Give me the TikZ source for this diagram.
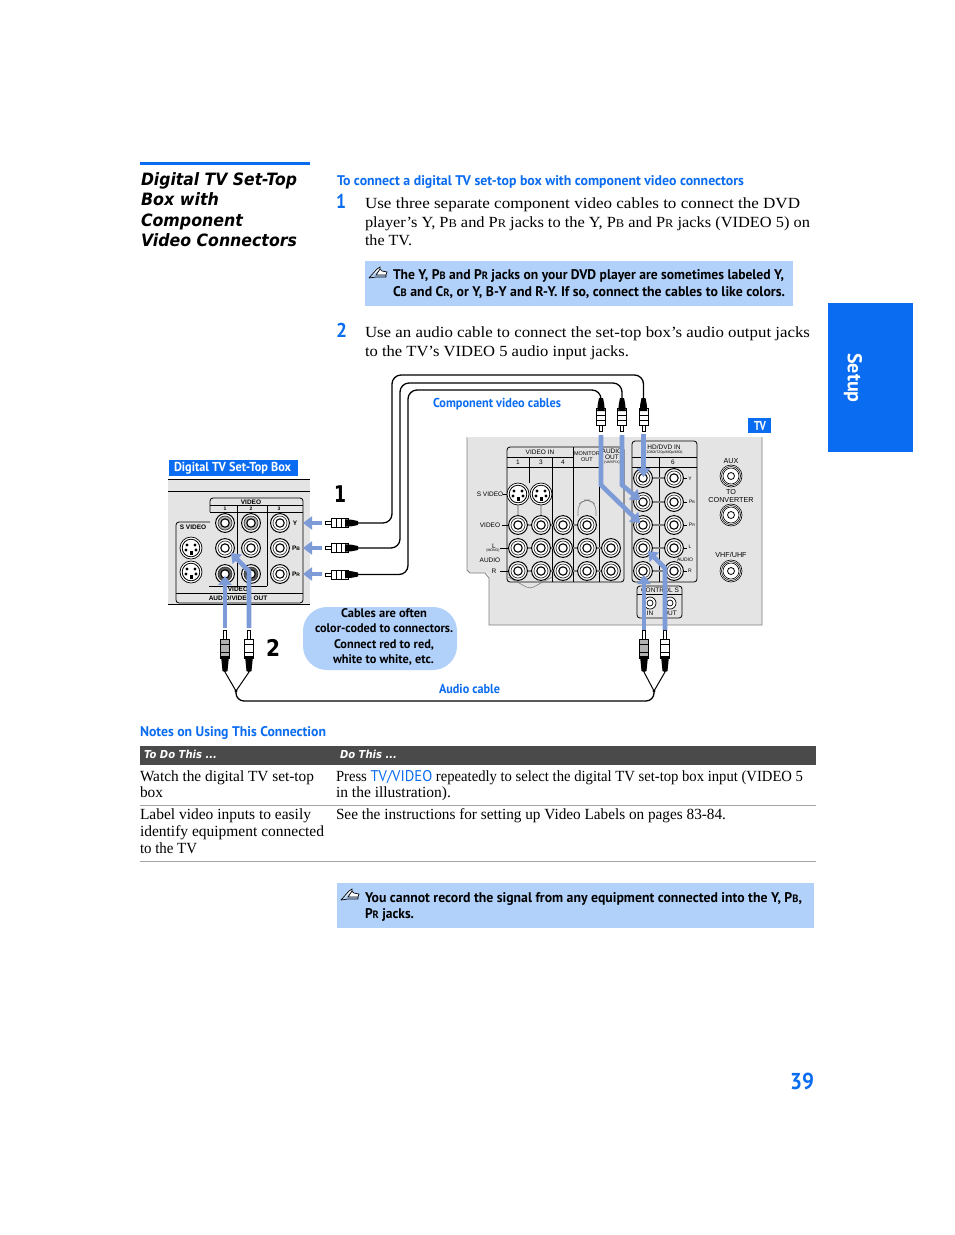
\documentclass[tikz,border=0pt]{standalone}
\usepackage{fontspec}
\usepackage{graphicx}
\usetikzlibrary{arrows.meta}
\setmainfont{Liberation Serif}
\setsansfont{PT Sans}
\newfontfamily\dvs{DejaVu Sans}
\newfontfamily\lbs{Liberation Sans}
\definecolor{sonyblue}{HTML}{0A6CF0}
\definecolor{notefill}{HTML}{B1D1FB}
\definecolor{panel}{HTML}{E4E4E4}
\definecolor{arrowblue}{HTML}{7D9BD6}
\definecolor{headgrey}{HTML}{4A4A4A}
\newcounter{tn}
\newcommand\tx[5][]{\stepcounter{tn}\node[txt,#1] (t\arabic{tn}) at (#2,#3) {\resizebox{#4pt}{\height}{#5}};}
\newcommand\lbl[4][]{\stepcounter{tn}\node[lab,#1] (t\arabic{tn}) at (#2,#3) {#4};}
\newcommand\lsm[1]{\scalebox{.76}{#1}}
\newcommand\jack[3][white]{%
  \fill[white] (#2,#3) circle[radius=9.8];
  \draw[black,line width=1] (#2,#3) circle[radius=9.4];
  \draw[black!80,line width=.7,fill=#1] (#2,#3) circle[radius=7];
  \draw[black,line width=1.1,fill=white] (#2,#3) circle[radius=4.2];
}
\newcommand\svideo[2]{%
  \draw[black,line width=.7,fill=white] (#1,#2) circle[radius=11];
  \draw[black,line width=.8,fill=white] (#1,#2) circle[radius=8.8];
  \fill[black] (#1-4,#2-3) circle[radius=1.6] (#1+4,#2-3) circle[radius=1.6]
               (#1-5,#2+2) circle[radius=1.6] (#1+5,#2+2) circle[radius=1.6];
  \fill[black] (#1-1.5,#2+3) rectangle (#1+1.5,#2+7);
}
\newcommand\noteicon[2]{%
  \begin{scope}[shift={(#1,#2)}]
    \draw[black,line width=.7,fill=white] (0,12) -- (8,3) -- (11,1) -- (11,3) -- (7,9) -- (17,9) -- (18,6) -- (13,5) -- (11,3);
    \draw[black,line width=.7] (0,12) -- (7,11) -- (17,11) -- (17,9);
  \end{scope}
}
\tikzset{
  txt/.style={inner sep=0pt,outer sep=0pt,anchor=base west},
  body/.style={font=\rmfamily\fontsize{15.5}{18}\selectfont,text=black},
  headb/.style={font=\sffamily\bfseries\fontsize{14}{16}\selectfont,text=sonyblue},
  noteb/.style={font=\sffamily\bfseries\fontsize{14}{16}\selectfont,text=black},
  title/.style={font=\dvs\bfseries\itshape\fontsize{17}{20}\selectfont,text=black},
  lab/.style={inner sep=0pt,outer sep=0pt,anchor=center,font=\lbs\fontsize{6.5}{7}\selectfont,text=black},
  labb/.style={lab,font=\lbs\bfseries\fontsize{6.5}{7}\selectfont},
  boxline/.style={draw=black,line width=.8,rounded corners=3},
  thin line/.style={draw=black,line width=.8},
  link/.style={draw=gray,line width=1.2},
  cable/.style={draw=black,line width=1.3,rounded corners=9},
  flow/.style={draw=arrowblue,line width=4.6,-{Triangle[width=13pt,length=9pt]}},
  pics/plug/.style={code={
    \draw[black,line width=.6,fill=white] (0,-1.5) rectangle (6,1.5);
    \draw[black,line width=1,fill=#1] (6,-4.5) -- (23,-4.5) -- (23,4.5) -- (6,4.5) -- cycle;
    \draw[black,line width=1] (11,-4.5) -- (11,4.5) (16,-4.5) -- (16,4.5);
    \fill[black] (20,-3.8) -- (27,-3.2) -- (33,-2) -- (33,2) -- (27,3.2) -- (20,3.8) -- cycle;
  }},
  pics/aplug/.style={code={
    \draw[black,line width=.6,fill=white] (0,-1.7) rectangle (9,1.7);
    \draw[black,line width=1,fill=#1] (9,-4.5) -- (9,4.5) -- (28,4.5) -- (28,-4.5) -- cycle;
    \draw[black,line width=.7] (14,-4.5) -- (14,4.5) (22,-4.5) -- (22,4.5);
    \fill[black] (26,-4) -- (41,-2.5) -- (42,0) -- (41,2.5) -- (26,4) -- cycle;
  }},
}
\begin{document}
\begin{tikzpicture}[x=1pt,y=-1pt]
\useasboundingbox (0,0) rectangle (954,1235);
\fill[white] (0,0) rectangle (954,1235);

% ---- left title
\fill[sonyblue] (140,162) rectangle (310,165);
\tx[title]{141}{185}{156}{Digital TV Set-Top}
\tx[title]{141}{205}{78}{Box with}
\tx[title]{141}{226}{102}{Component}
\tx[title]{141}{246}{156}{Video Connectors}

% ---- right column text
\tx[headb]{337}{185}{407}{To connect a digital TV set-top box with component video connectors}
\tx[headb,font=\sffamily\bfseries\fontsize{20}{22}\selectfont]{336}{208}{10}{1}
\tx[body]{365}{208}{435}{Use three separate component video cables to connect the DVD}
\tx[body]{365}{227}{445}{player’s Y, P\lsm{B} and P\lsm{R} jacks to the Y, P\lsm{B} and P\lsm{R} jacks (VIDEO 5) on}
\tx[body]{365}{245}{47}{the TV.}
\fill[notefill] (365,261) rectangle (793,306);
\noteicon{369}{266}
\tx[noteb]{393}{279}{391}{The Y, P\lsm{B} and P\lsm{R} jacks on your DVD player are sometimes labeled Y,}
\tx[noteb]{393}{296}{392}{C\lsm{B} and C\lsm{R}, or Y, B-Y and R-Y. If so, connect the cables to like colors.}
\tx[headb,font=\sffamily\bfseries\fontsize{20}{22}\selectfont]{336}{337}{11}{2}
\tx[body]{365}{337}{445}{Use an audio cable to connect the set-top box’s audio output jacks}
\tx[body]{365}{356}{264}{to the TV’s VIDEO 5 audio input jacks.}

% ---- side tab and page number
\fill[sonyblue] (828,303) rectangle (913,452);
\node[inner sep=0pt,rotate=-90,font=\sffamily\bfseries\fontsize{20}{22}\selectfont,text=white] (setup) at (853,378) {Setup};
\tx[font=\sffamily\bfseries\fontsize{23}{26}\selectfont,text=sonyblue]{790}{1089}{24}{39}

% ---- TV panel
\path[fill=panel] (467,437) -- (762,437) -- (762,625) -- (489,625) -- (489,580) [rounded corners=3] -- (489,573) -- (470,573) -- (467,570) -- cycle;
\draw[gray,line width=.8] (467,437) -- (467,570) -- (470,573) -- (485,573) -- (489,578) -- (489,625) -- (762,625) -- (762,437);

% TV rear groups
\draw[boxline] (507,582) -- (507,447) -- (624,447) -- (624,582) -- cycle;
\draw[thin line] (507,457) -- (573,457) (507,467) -- (599,467);
\draw[thin line] (529,457) -- (529,483) (552,457) -- (552,582) (573,447) -- (573,582) (599,447) -- (599,582);
\draw[boxline] (632,582) -- (632,441) -- (697,441) -- (697,582) -- cycle;
\draw[thin line] (632,457) -- (697,457) (632,467) -- (697,467) (659,457) -- (659,582);
\draw[boxline,fill=panel] (637,618) -- (637,586) -- (682,586) -- (682,618) -- cycle;
\draw[thin line] (637,594) -- (682,594);
\draw[gray,line width=.6,rounded corners=6] (578,516) -- (578,505) -- (584,500) -- (590,500) -- (596,505) -- (596,516);
\draw[gray,line width=.6,rounded corners=4] (508,577) -- (530,589) -- (552,577);
\draw[black,line width=.7] (503,494) -- (508,494) (502,525) -- (509,525) (500,548) -- (509,548) (500,571) -- (509,571);
\foreach \yy in {525,548,571}{\draw[link] (510,\yy) -- (587,\yy);}
\draw[link] (587,548) -- (611,548) (587,571) -- (611,571);
\foreach \yy in {478,502,525,548,571}{\draw[link] (643,\yy) -- (674,\yy);}
\draw[black,line width=.7] (683,478) -- (687,478) (683,502) -- (687,502) (683,525) -- (687,525) (683,548) -- (687,548) (683,571) -- (687,571);
\foreach \xx in {518,541}{\draw[link,gray!60] (\xx,500) -- (\xx,520); \svideo{\xx}{494}}
\foreach \xx in {518,541,563,587}{\jack{\xx}{525}}
\foreach \xx in {518,541,563,587,611}{\jack{\xx}{548}\jack{\xx}{571}}
\foreach \yy in {478,502,525,548,571}{\jack{643}{\yy}\jack{674}{\yy}}
\foreach \yy in {476,515,571}{
  \draw[black,line width=.6,fill=white] (731,\yy) circle[radius=11];
  \draw[black,line width=.6] (731,\yy) circle[radius=9.5];
  \draw[black,line width=.6] (731,\yy) circle[radius=8];
  \draw[black,line width=.8] (731,\yy) circle[radius=3.5];
}
\foreach \xx in {650,670}{
  \draw[black,line width=.7,fill=white] (\xx,603) circle[radius=6];
  \draw[black,line width=.7] (\xx,603) circle[radius=3];
}
\lbl{540}{452}{VIDEO IN}
\lbl{518}{462}{1}\lbl{541}{462}{3}\lbl{563}{462}{4}
\lbl[font=\lbs\fontsize{5.5}{6}\selectfont]{587}{454}{MONITOR}
\lbl[font=\lbs\fontsize{5.5}{6}\selectfont]{587}{460}{OUT}
\lbl{612}{451}{AUDIO}
\lbl{612}{457}{OUT}
\lbl[font=\lbs\fontsize{3.5}{4}\selectfont]{612}{463}{(VAR/FIX)}
\lbl{490}{494}{S VIDEO}
\lbl{490}{525}{VIDEO}
\lbl{494}{546}{L}
\lbl[font=\lbs\fontsize{3.5}{4}\selectfont]{493}{551}{(MONO)}
\lbl{490}{560}{AUDIO}
\lbl{494}{571}{R}
\lbl[font=\lbs\fontsize{6.5}{8}\selectfont]{664}{447}{HD/DVD IN}
\lbl[font=\lbs\fontsize{3.6}{4}\selectfont]{664}{453}{(1080i/720p/480p/480i)}
\lbl{643}{462}{5}\lbl{673}{462}{6}
\lbl[font=\lbs\fontsize{5}{6}\selectfont]{690}{479}{Y}
\lbl[font=\lbs\fontsize{5}{6}\selectfont]{692}{502}{P\lsm{B}}
\lbl[font=\lbs\fontsize{5}{6}\selectfont]{692}{525}{P\lsm{R}}
\lbl[font=\lbs\fontsize{5}{6}\selectfont]{690}{547}{L}
\lbl[font=\lbs\fontsize{5}{6}\selectfont]{685}{560}{AUDIO}
\lbl[font=\lbs\fontsize{5}{6}\selectfont]{690}{571}{R}
\lbl{660}{590}{CONTROL S}
\lbl{650}{613}{IN}\lbl{670}{613}{OUT}
\lbl[font=\lbs\fontsize{7.2}{8}\selectfont]{731}{461}{AUX}
\lbl[font=\lbs\fontsize{7.2}{8}\selectfont]{731}{492}{TO}
\lbl[font=\lbs\fontsize{7.2}{8}\selectfont]{731}{500}{CONVERTER}
\lbl[font=\lbs\fontsize{7.2}{8}\selectfont]{731}{555}{VHF/UHF}

% TV tag
\fill[sonyblue] (748,418) rectangle (771,433);
\tx[font=\sffamily\bfseries\fontsize{13}{14}\selectfont,text=white]{754}{430}{12}{TV}

% ---- Set-top panel
\fill[panel] (168,480) rectangle (310,605);
\draw[black,line width=.8] (168,479.5) -- (310,479.5) (168,491) -- (310,491) (168,604.5) -- (310,604.5);
\fill[sonyblue] (169,460) rectangle (298,476);
\tx[font=\sffamily\bfseries\fontsize{13}{14}\selectfont,text=white]{174}{471}{117}{Digital TV Set-Top Box}
\draw[boxline] (210,512) -- (210,498) -- (303,498) -- (303,603) -- (176,603) -- (176,522) -- (210,522);
\draw[thin line] (210,505) -- (303,505) (210,512) -- (303,512) (237,505) -- (237,586) (267,505) -- (267,586) (209,586) -- (267,586) (176,593) -- (303,593);
\jack[gray!60]{225}{523}\jack[gray!60]{251}{523}\jack{280}{523}
\jack{225}{548}\jack{251}{548}\jack{280}{548}
\jack[black!65]{225}{574}\jack[black!65]{251}{574}\jack{280}{574}
\svideo{191}{548}\svideo{191}{572}
\lbl[labb]{251}{502}{VIDEO}
\lbl[labb,font=\lbs\bfseries\fontsize{5}{6}\selectfont]{225}{508.5}{1}
\lbl[labb,font=\lbs\bfseries\fontsize{5}{6}\selectfont]{251}{508.5}{2}
\lbl[labb,font=\lbs\bfseries\fontsize{5}{6}\selectfont]{279}{508.5}{3}
\lbl[labb]{193}{527}{S VIDEO}
\lbl[labb]{295}{523}{Y}
\lbl[labb]{296}{548}{P\lsm{B}}
\lbl[labb]{296}{574}{P\lsm{R}}
\lbl[labb]{238}{589.5}{VIDEO}
\lbl[labb]{238}{598.5}{AUDIO/VIDEO OUT}

% ---- plugs
\pic[rotate=0] at (325,523) {plug=white};
\pic[rotate=0] at (325,548) {plug=white};
\pic[rotate=0] at (325,574.5) {plug=white};
\pic[rotate=90] at (601,431) {plug=white};
\pic[rotate=90] at (622,431) {plug=white};
\pic[rotate=90] at (643.5,431) {plug=white};
\pic[rotate=-90] at (225,630) {aplug=gray!60};
\pic[rotate=-90] at (249,630) {aplug=white};
\pic[rotate=-90] at (644,630) {aplug=gray!60};
\pic[rotate=-90] at (665,630) {aplug=white};

% ---- cable ends and way-points
\coordinate (boxY) at (358,523);
\coordinate (boxB) at (358,548);
\coordinate (boxR) at (358,574.5);
\coordinate (tvY) at (643.5,398);
\coordinate (tvB) at (622,398);
\coordinate (tvR) at (601,398);
\coordinate (wayY) at (392,375);
\coordinate (wayB) at (400,383);
\coordinate (wayR) at (408,390);
\draw[cable] (boxY) -| (wayY) -| (tvY);
\draw[cable] (boxB) -| (wayB) -| (tvB);
\draw[cable] (boxR) -| (wayR) -| (tvR);

\coordinate (aL1) at (225,672);
\coordinate (aL2) at (249,672);
\coordinate (aR1) at (644,672);
\coordinate (aR2) at (665,672);
\coordinate (jL) at (236,691);
\coordinate (jR) at (654,691);
\coordinate (aBot) at (445,701);
\draw[black,line width=1] (aL1) -- (jL) -- (aL2);
\draw[black,line width=1] (aR1) -- (jR) -- (aR2);
\fill[black] (jL) circle[radius=1.6] (jR) circle[radius=1.6];
\draw[black,line width=1.3,rounded corners=8] (jL) |- (aBot) -| (jR);

% ---- blue flow arrows
\coordinate (ya) at (322,523); \coordinate (yb) at (303,523);
\coordinate (ba) at (322,548); \coordinate (bb) at (303,548);
\coordinate (ra) at (322,574); \coordinate (rb) at (303,574);
\draw[flow] (ya) -- (yb);
\draw[flow] (ba) -- (bb);
\draw[flow] (ra) -- (rb);
\coordinate (f1a) at (643.5,434); \coordinate (f1b) at (643.5,477);
\coordinate (f2a) at (622,435); \coordinate (f2m) at (622,485); \coordinate (f2b) at (640,500);
\coordinate (f3a) at (601,435); \coordinate (f3m) at (601,485); \coordinate (f3b) at (640,523);
\draw[flow] (f1a) -- (f1b);
\draw[flow] (f2a) -- (f2m) -- (f2b);
\draw[flow] (f3a) -- (f3m) -- (f3b);
\coordinate (g1a) at (644,630); \coordinate (g1b) at (644,575);
\coordinate (g2a) at (665,630); \coordinate (g2m) at (665,568); \coordinate (g2b) at (648,551);
\draw[flow] (g1a) -- (g1b);
\draw[flow] (g2a) -- (g2m) -- (g2b);
\coordinate (h1a) at (225,628); \coordinate (h1b) at (225,576);
\coordinate (h2a) at (249,628); \coordinate (h2m) at (249,571); \coordinate (h2b) at (231,553);
\draw[flow] (h1a) -- (h1b);
\draw[flow] (h2a) -- (h2m) -- (h2b);

% ---- diagram labels
\tx[headb,font=\sffamily\bfseries\fontsize{13}{15}\selectfont]{433}{407}{128}{Component video cables}
\tx[headb,font=\sffamily\bfseries\fontsize{13}{15}\selectfont]{439}{693}{61}{Audio cable}
\tx[font=\dvs\bfseries\fontsize{23}{25}\selectfont]{334}{502}{12}{1}
\tx[font=\dvs\bfseries\fontsize{23}{25}\selectfont]{266}{656}{14}{2}
\fill[notefill,rounded corners=24] (303,607) rectangle (457,670);
\tx[noteb,font=\sffamily\bfseries\fontsize{12.5}{14}\selectfont]{341}{617}{86}{Cables are often}
\tx[noteb,font=\sffamily\bfseries\fontsize{12.5}{14}\selectfont]{315}{632}{138}{color-coded to connectors.}
\tx[noteb,font=\sffamily\bfseries\fontsize{12.5}{14}\selectfont]{334}{648}{100}{Connect red to red,}
\tx[noteb,font=\sffamily\bfseries\fontsize{12.5}{14}\selectfont]{333}{663}{101}{white to white, etc.}

% ---- notes table
\tx[headb]{140}{736}{186}{Notes on Using This Connection}
\fill[headgrey] (140,746) rectangle (816,765);
\tx[font=\dvs\bfseries\itshape\fontsize{11}{13}\selectfont,text=white]{144}{758}{73}{To Do This ...}
\tx[font=\dvs\bfseries\itshape\fontsize{11}{13}\selectfont,text=white]{340}{758}{57}{Do This ...}
\tx[body]{140}{781}{174}{Watch the digital TV set-top}
\tx[body]{140}{797}{23}{box}
\tx[body]{336}{781}{467}{Press {\sffamily\color{sonyblue}TV/VIDEO} repeatedly to select the digital TV set-top box input (VIDEO 5}
\tx[body]{336}{797}{115}{in the illustration).}
\draw[gray!70,line width=.8] (140,805.5) -- (816,805.5);
\tx[body]{140}{819}{171}{Label video inputs to easily}
\tx[body]{140}{836}{184}{identify equipment connected}
\tx[body]{140}{853}{57}{to the TV}
\tx[body]{336}{819}{390}{See the instructions for setting up Video Labels on pages 83-84.}
\draw[gray!70,line width=.8] (140,861.5) -- (816,861.5);

\fill[notefill] (337,883) rectangle (814,928);
\noteicon{341}{888}
\tx[noteb]{365}{902}{437}{You cannot record the signal from any equipment connected into the Y, P\lsm{B},}
\tx[noteb]{365}{918}{49}{P\lsm{R} jacks.}
\end{tikzpicture}
\end{document}
